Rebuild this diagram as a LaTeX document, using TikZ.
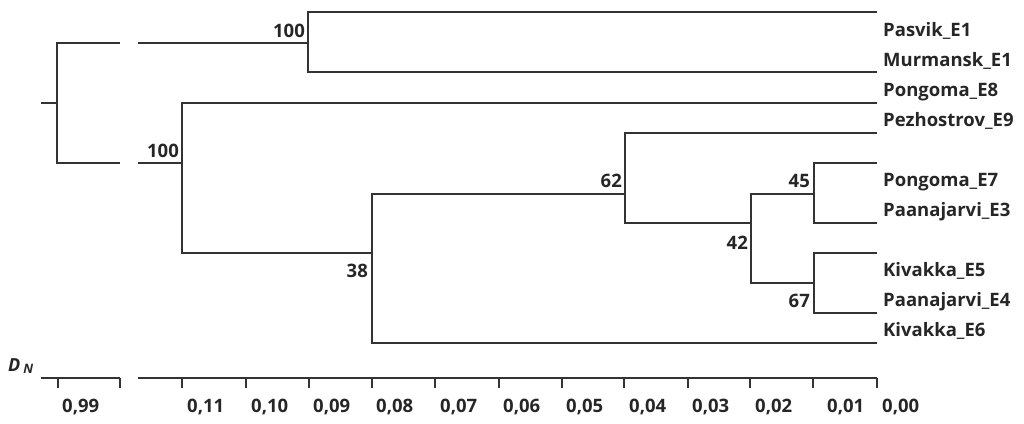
\documentclass[tikz,border=0pt]{standalone}
\usepackage{fontspec}
\setmainfont{Open Sans}
\begin{document}
\begin{tikzpicture}[x=1pt,y=-1pt,
    branch/.style={line width=1.5pt,draw=black!80},
    leaflabel/.style={anchor=base west,inner sep=0pt,text=black!85,
      font=\fontsize{18.5}{22}\selectfont\bfseries},
    bootlabel/.style={anchor=base east,inner sep=0pt,text=black!85,
      font=\fontsize{18.5}{22}\selectfont\bfseries},
    ticklabel/.style={anchor=base west,inner sep=0pt,text=black!85,
      font=\fontsize{18.5}{22}\selectfont\bfseries}]
    \useasboundingbox (0,0) rectangle (1024,423);

    % root and broken branches
    \coordinate (root) at (41,103);
    \coordinate (r) at (57,103);
    \coordinate (cutAl) at (120,43);
    \coordinate (cutAr) at (138,43);
    \coordinate (cutBl) at (120,163);
    \coordinate (cutBr) at (138,163);

    % internal nodes
    \coordinate (nA) at (308,43);   % 100 top
    \coordinate (nB) at (182,163);  % 100 bottom
    \coordinate (nC) at (372,253);  % 38
    \coordinate (nD) at (625,194);  % 62
    \coordinate (nE) at (751,223);  % 42
    \coordinate (nF) at (814,194);  % 45
    \coordinate (nG) at (814,283);  % 67

    % leaves
    \foreach \n\y in {pasvikE/12, murmanskE/72, pongomaEa/103, pezhostrovE/133,
        pongomaEb/163, paanajarviEa/223, kivakkaEa/253, paanajarviEb/313,
        kivakkaEb/343}{
      \coordinate (\n) at (877,\y);
    }

    \draw[branch] (root) -- (r);
    \draw[branch] (r) |- (cutAl);
    \draw[branch] (r) |- (cutBl);
    \draw[branch] (cutAr) -- (nA);
    \draw[branch] (cutBr) -- (nB);

    \draw[branch] (nA) |- (pasvikE);
    \draw[branch] (nA) |- (murmanskE);
    \draw[branch] (nB) |- (pongomaEa);
    \draw[branch] (nB) |- (nC);
    \draw[branch] (nC) |- (nD);
    \draw[branch] (nC) |- (kivakkaEb);
    \draw[branch] (nD) |- (pezhostrovE);
    \draw[branch] (nD) |- (nE);
    \draw[branch] (nE) |- (nF);
    \draw[branch] (nE) |- (nG);
    \draw[branch] (nF) |- (pongomaEb);
    \draw[branch] (nF) |- (paanajarviEa);
    \draw[branch] (nG) |- (kivakkaEa);
    \draw[branch] (nG) |- (paanajarviEb);

    % support values
    \node[bootlabel] (bA) at (305,37) {100};
    \node[bootlabel] (bB) at (179,157) {100};
    \node[bootlabel] (bC) at (368,277) {38};
    \node[bootlabel] (bD) at (622,187) {62};
    \node[bootlabel] (bE) at (748,249) {42};
    \node[bootlabel] (bF) at (810,187) {45};
    \node[bootlabel] (bG) at (810,307) {67};

    % leaf names
    \foreach \n\y\t in {lPasvik/36/Pasvik\_E1, lMurmansk/66/Murmansk\_E1,
        lPongomaA/96/Pongoma\_E8, lPezhostrov/126/Pezhostrov\_E9,
        lPongomaB/186/Pongoma\_E7, lPaanajarviA/216/Paanajarvi\_E3,
        lKivakkaA/276/Kivakka\_E5, lPaanajarviB/306/Paanajarvi\_E4,
        lKivakkaB/336/Kivakka\_E6}{
      \node[leaflabel] (\n) at (883,\y) {\t};
    }

    % scale
    \node[anchor=base west,inner sep=0pt,text=black!85] (dn) at (8,371)
      {\fontsize{18}{20}\selectfont\bfseries\itshape D\,\fontsize{13}{15}\selectfont\raisebox{-0.4ex}{N}};
    \coordinate (axAl) at (41,378);
    \coordinate (axAr) at (120,378);
    \coordinate (axBl) at (138,378);
    \coordinate (axBr) at (877,378);
    \draw[branch] (axAl) -- (axAr);
    \draw[branch] (axBl) -- (axBr);
    \foreach \x in {58,120}{
      \draw[branch] (\x,378) -- (\x,388);
    }
    \node[ticklabel] (t099) at (62,412) {0,99};
    \foreach \x\lx\t in {182/187/{0,11}, 246/251/{0,10}, 309/313/{0,09},
        372/376/{0,08}, 435/440/{0,07}, 499/503/{0,06}, 562/566/{0,05},
        624/629/{0,04}, 688/692/{0,03}, 750/755/{0,02}, 813/827/{0,01},
        877/882/{0,00}}{
      \draw[branch] (\x,378) -- (\x,388);
      \node[ticklabel] at (\lx,412) {\t};
    }
  \end{tikzpicture}
\end{document}
